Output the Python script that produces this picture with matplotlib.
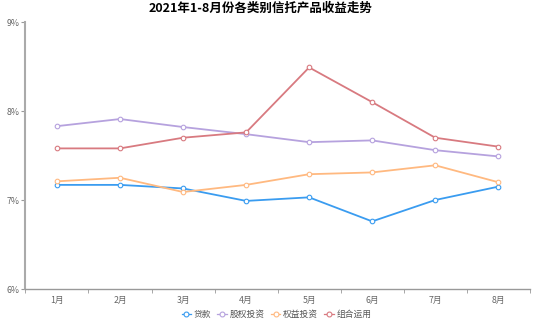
import numpy as np
import matplotlib.pyplot as plt
from matplotlib.lines import Line2D

plt.rcParams['font.family'] = ['Noto Sans CJK SC', 'DejaVu Sans']

months = ['1月', '2月', '3月', '4月', '5月', '6月', '7月', '8月']
loan = [7.17, 7.17, 7.13, 6.99, 7.03, 6.76, 7.00, 7.15]
equity_inv = [7.83, 7.91, 7.82, 7.74, 7.65, 7.67, 7.56, 7.49]
rights_inv = [7.21, 7.25, 7.09, 7.17, 7.29, 7.31, 7.39, 7.20]
mixed = [7.58, 7.58, 7.70, 7.76, 8.49, 8.10, 7.70, 7.60]

names = ['贷款', '股权投资', '权益投资', '组合运用']
colors = ['#3a9cf0', '#b6a2de', '#ffb980', '#d87a80']

fig = plt.figure(figsize=(5.53, 3.24), dpi=100)
ax = fig.add_axes([0.046, 0.108, 0.912, 0.824])

x = np.arange(len(months))
for vals, c in zip([loan, equity_inv, rights_inv, mixed], colors):
    ax.plot(x, vals, color=c, lw=1.3, marker='o', ms=3.3,
            mfc='white', mec=c, mew=0.8, zorder=3)

ax.set_xlim(-0.5, len(months) - 0.5)
ax.set_ylim(6, 9)
ax.set_yticks([6, 7, 8, 9])
ax.set_yticklabels(['6%', '7%', '8%', '9%'])
ax.set_xticks(x)
ax.set_xticklabels(months)
ax.set_xticks(np.arange(len(months) + 1) - 0.5, minor=True)
ax.tick_params(axis='x', which='major', length=0, labelsize=6.3, colors='#666666', pad=5)
ax.tick_params(axis='x', which='minor', length=3, color='#999999')
ax.tick_params(axis='y', length=3, labelsize=6.3, colors='#666666', pad=1, width=0.8)
ax.tick_params(axis='y', color='#999999')

for side in ['top', 'right']:
    ax.spines[side].set_visible(False)
ax.spines['left'].set_color('#aaaaaa')
ax.spines['left'].set_linewidth(1.5)
ax.spines['bottom'].set_color('#999999')
ax.spines['bottom'].set_linewidth(1.0)

fig.suptitle('2021年1-8月份各类别信托产品收益走势', x=0.472, y=0.995,
             fontsize=9, fontweight='bold', va='top')

handles = [Line2D([0], [0], color=c, lw=0.9, marker='o', ms=3.5, mfc='white', mec=c, mew=0.8)
           for c in colors]
fig.legend(handles, names, loc='lower center', bbox_to_anchor=(0.5, -0.01),
           ncol=4, frameon=False, fontsize=6.3, handlelength=1.1,
           handletextpad=0.3, columnspacing=0.7, labelcolor='#555555')

fig.savefig('out.png', dpi=100)
